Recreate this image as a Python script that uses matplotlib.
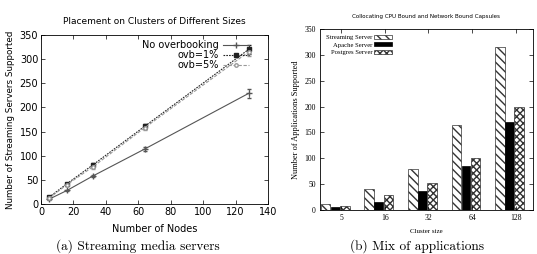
import matplotlib
matplotlib.use("Agg")
import matplotlib.pyplot as plt
import numpy as np

nodes = [5, 16, 32, 64, 128]
no_ovb = [10, 28, 58, 114, 229]
no_ovb_err = [2, 2, 3, 5, 9]
ovb1 = [14, 42, 81, 161, 320]
ovb1_err = [2, 2, 4, 5, 10]
ovb5 = [12, 40, 77, 158, 315]
ovb5_err = [2, 2, 4, 5, 9]

clusters = ["5", "16", "32", "64", "128"]
streaming = [12, 41, 80, 165, 315]
apache = [5, 16, 37, 85, 170]
postgres = [8, 29, 52, 101, 200]

W, H = 537, 254
fig = plt.figure(figsize=(W/100, H/100), dpi=100)

def box(l, t, r, b):
    return [l/W, 1-b/H, (r-l)/W, (b-t)/H]

ax1 = fig.add_axes(box(41, 35, 268, 204))
e1 = ax1.errorbar(nodes, no_ovb, yerr=no_ovb_err, color="#555555", lw=0.8, marker="+", ms=4,
                  capsize=1.5, elinewidth=0.6, label="No overbooking")
e2 = ax1.errorbar(nodes, ovb1, yerr=ovb1_err, color="#222222", lw=0.8, ls=(0, (1.5, 1)), marker="s", ms=3,
                  capsize=1.5, elinewidth=0.6, label="ovb=1%")
e3 = ax1.errorbar(nodes, ovb5, yerr=ovb5_err, color="#999999", lw=0.8, ls=(0, (3, 1.5)), marker="o", ms=2.5,
                  mfc="white", capsize=1.5, elinewidth=0.6, label="ovb=5%")
ax1.set_xlim(0, 140)
ax1.set_ylim(0, 350)
ax1.set_xticks(range(0, 141, 20))
ax1.set_yticks(range(0, 351, 50))
ax1.tick_params(direction="in", top=True, right=True, labelsize=7, length=3, width=0.5, pad=2)
for s in ax1.spines.values():
    s.set_linewidth(0.6)
ax1.set_title("Placement on Clusters of Different Sizes", fontsize=6.5, pad=8)
ax1.set_xlabel("Number of Nodes", fontsize=7, labelpad=5)
ax1.set_ylabel("Number of Streaming Servers Supported", fontsize=6.3, labelpad=3)
leg = ax1.legend([e1[0], e2[0], e3[0]], ["No overbooking", "ovb=1%", "ovb=5%"],
                 loc="upper left", bbox_to_anchor=(0.42, 1.0), frameon=False, fontsize=7,
                 markerfirst=False, handlelength=2.6, handletextpad=0.5, labelspacing=0.0,
                 borderaxespad=0.15, numpoints=1)

serif = "Liberation Serif"
ax2 = fig.add_axes(box(320, 29, 533, 210))
x = np.arange(len(clusters))
w = 0.22
ax2.bar(x - 0.36, streaming, w, color="white", edgecolor="#333333", hatch="\\\\\\\\", lw=0.5, label="Streaming Server")
ax2.bar(x - 0.14, apache, w * 0.9, color="black", edgecolor="black", lw=0.5, label="Apache Server")
ax2.bar(x + 0.08, postgres, w, color="white", edgecolor="#333333", hatch="xxxxx", lw=0.5, label="Postgres Server")
ax2.set_xlim(-0.49, 4.4)
ax2.set_ylim(0, 350)
ax2.set_xticks(x)
ax2.set_xticklabels(clusters)
ax2.set_yticks(range(0, 351, 50))
ax2.tick_params(direction="in", top=True, right=True, labelsize=5.5, length=3, width=0.5, pad=3)
for lab in ax2.get_xticklabels() + ax2.get_yticklabels():
    lab.set_family(serif)
for s in ax2.spines.values():
    s.set_linewidth(0.6)
ax2.set_title("Collocating CPU Bound and Network Bound Capsules", fontsize=4.1, pad=8)
ax2.set_xlabel("Cluster size", fontsize=5, family=serif, labelpad=5)
ax2.set_ylabel("Number of Applications Supported", fontsize=6, family=serif, labelpad=3)
leg2 = ax2.legend(loc="upper left", frameon=False, markerfirst=False, prop={"family": serif, "size": 4.8},
                  handlelength=2.6, handleheight=0.55, handletextpad=0.3, labelspacing=0.3,
                  borderaxespad=0.5)

fig.text(138/W, 1-246/H, "(a) Streaming media servers", ha="center", va="center", fontsize=9.6, family="cmr10")
fig.text(417/W, 1-246/H, "(b) Mix of applications", ha="center", va="center", fontsize=9.6, family="cmr10")

fig.savefig("out.png", dpi=100)
